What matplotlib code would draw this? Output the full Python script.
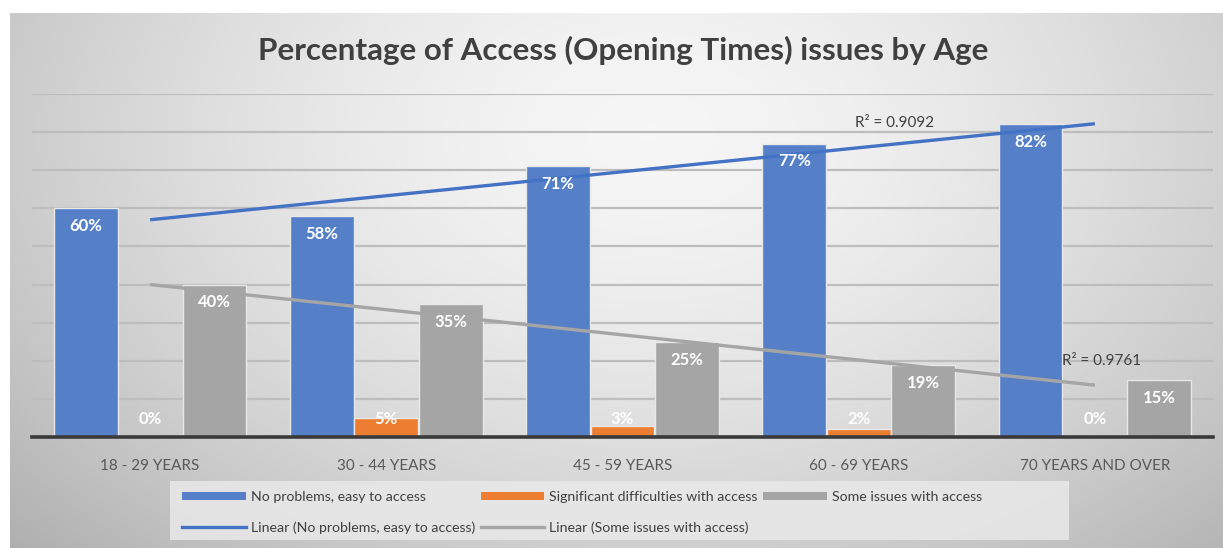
import numpy as np
import matplotlib
matplotlib.use('Agg')
import matplotlib.pyplot as plt
from matplotlib.patches import Patch, Rectangle
from matplotlib.lines import Line2D

plt.rcParams['font.family'] = ['Lato', 'DejaVu Sans']

# Survey results, percent of respondents per age group
age_groups = ['18 - 29 YEARS', '30 - 44 YEARS', '45 - 59 YEARS',
              '60 - 69 YEARS', '70 YEARS AND OVER']
no_problems = [60, 58, 71, 77, 82]
significant = [0, 5, 3, 2, 0]
some_issues = [40, 35, 25, 19, 15]

series_names = ['No problems, easy to access',
                'Significant difficulties with access',
                'Some issues with access']
r2_labels = ['R² = 0.9092', 'R² = 0.9761']

blue = '#5580C8'
orange = '#ED7D31'
grey = '#A5A5A5'
trend_blue = '#4472C4'
text_dark = '#404040'

W, H = 1223, 548
fig = plt.figure(figsize=(W / 100, H / 100), dpi=100)
fig.patch.set_facecolor('white')

# soft radial gray background behind the chart
bg = fig.add_axes([10 / W, 0, 1 - 10 / W, 1 - 13 / H], zorder=-10)
yy, xx = np.mgrid[0:535, 0:1213]
d = np.sqrt(((xx - 640) / 760.0) ** 2 + ((yy - 120) / 520.0) ** 2)
shade = 0.965 - 0.22 * np.clip(d, 0, 1.2) ** 1.6
bg.imshow(np.dstack([shade] * 3), aspect='auto', extent=[0, 1, 0, 1],
          origin='upper', interpolation='bilinear')
bg.axis('off')

ax = fig.add_axes([32 / W, (H - 437) / H, 1181 / W, (437 - 94) / H])
ax.set_facecolor('none')

x = np.arange(len(age_groups))
width = 0.27
offset = 0.273

groups = [(no_problems, blue, -offset), (significant, orange, 0.0),
          (some_issues, grey, offset)]
for vals, col, off in groups:
    ax.bar(x + off, vals, width, color=col, edgecolor='#e8e8e8',
           linewidth=1, zorder=3)
    for xi, v in zip(x + off, vals):
        ax.text(xi, max(v - 4.7, 4.7), f'{v}%', ha='center', va='center',
                color='white', fontsize=12, fontweight='bold', zorder=5)

# linear trendlines over the category index
fit_x = x + 1
for vals, col in [(no_problems, trend_blue), (some_issues, grey)]:
    k, b = np.polyfit(fit_x, vals, 1)
    ax.plot(x, k * fit_x + b, color=col, lw=2.4, zorder=4,
            solid_capstyle='butt')

ax.text(3.15, 82.4, r2_labels[0], fontsize=11, color=text_dark,
        ha='center', va='center', zorder=6)
ax.text(4.03, 20.0, r2_labels[1], fontsize=11, color=text_dark,
        ha='center', va='center', zorder=6)

ax.set_xlim(-0.5, 4.5)
ax.set_ylim(0, 90)
ax.set_yticks(np.arange(0, 91, 10))
ax.yaxis.grid(True, color='#bdbdbd', lw=1.6, zorder=0)
ax.set_axisbelow(True)
ax.tick_params(axis='y', left=False, labelleft=False)
ax.tick_params(axis='x', bottom=False, pad=12, labelsize=11,
               labelcolor='#595959')
ax.set_xticks(x)
ax.set_xticklabels(age_groups)
for s in ['top', 'right', 'left']:
    ax.spines[s].set_visible(False)
ax.spines['bottom'].set_color('#3a3a3a')
ax.spines['bottom'].set_linewidth(2.6)
ax.spines['bottom'].set_zorder(6)

fig.text(623 / W, 1 - 50 / H,
         'Percentage of Access (Opening Times) issues by Age',
         ha='center', va='center', fontsize=22.6, fontweight='bold',
         color=text_dark)

# legend panel
fig.patches.append(Rectangle((170 / W, 1 - 540 / H), (1069 - 170) / W,
                             (540 - 481) / H, transform=fig.transFigure,
                             facecolor='#e9e9e9', alpha=0.85,
                             edgecolor='none', zorder=1))

handles = [Patch(facecolor=blue), Line2D([], [], color=trend_blue, lw=2.4),
           Patch(facecolor=orange), Line2D([], [], color=grey, lw=2.4),
           Patch(facecolor=grey)]
labels = [series_names[0], 'Linear (' + series_names[0] + ')',
          series_names[1], 'Linear (' + series_names[2] + ')',
          series_names[2]]
leg = fig.legend(handles, labels, ncol=3, loc='upper left',
                 bbox_to_anchor=(182 / W, 1 - 491 / H), frameon=False,
                 fontsize=10.2, handlelength=4.5, handleheight=0.55,
                 columnspacing=0.4, handletextpad=0.35,
                 labelspacing=1.3, borderpad=0, borderaxespad=0)
leg.set_zorder(2)
for t in leg.get_texts():
    t.set_color(text_dark)

fig.savefig('out.png', dpi=100)
